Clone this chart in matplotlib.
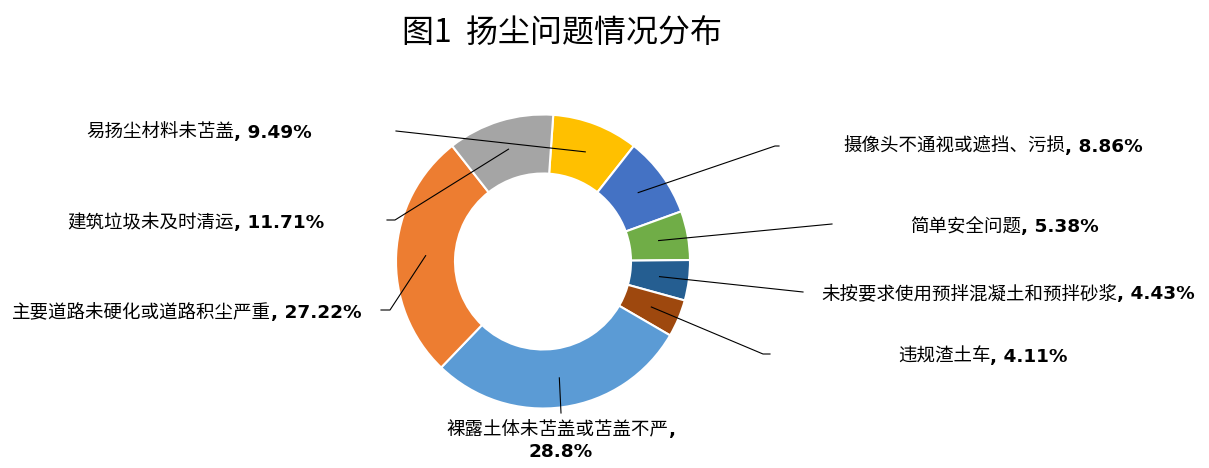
import numpy as np
import matplotlib
matplotlib.use("Agg")
import matplotlib.pyplot as plt

plt.rcParams['font.family'] = ['Noto Sans CJK SC', 'DejaVu Sans']

# data, clockwise from the top
names = ["易扬尘材料未苫盖", "摄像头不通视或遮挡、污损", "简单安全问题",
         "未按要求使用预拌混凝土和预拌砂浆", "违规渣土车", "裸露土体未苫盖或苫盖不严",
         "主要道路未硬化或道路积尘严重", "建筑垃圾未及时清运"]
values = [9.49, 8.86, 5.38, 4.43, 4.11, 28.8, 27.22, 11.71]
value_labels = ["9.49%", "8.86%", "5.38%", "4.43%", "4.11%", "28.8%", "27.22%", "11.71%"]
colors = ["#FFC000", "#4472C4", "#70AD47", "#255E91", "#9E480E", "#5B9BD5", "#ED7D31", "#A5A5A5"]

W, H = 1209, 468
fig = plt.figure(figsize=(W / 100, H / 100), dpi=100)
ax = fig.add_axes([0, 0, 1, 1])

cx, cy = 543, 261.5
R, ring = 147, 59
wedges, _ = ax.pie(values, colors=colors, startangle=86, counterclock=False,
                   radius=R, center=(cx, H - cy),
                   wedgeprops=dict(width=ring, edgecolor='white', linewidth=1.5))
ax.set_xlim(0, W)
ax.set_ylim(0, H)
ax.set_aspect('auto')
ax.axis('off')

# label layout in pixel coords (y down): text x, text y, alignment, leader path
layout = [
    (312, 131, 'right', [(396, 131)]),
    (843, 145, 'left', [(775, 146), (779, 146)]),
    (910, 225, 'left', [(832, 224)]),
    (821, 292, 'left', [(803, 292)]),
    (898, 355, 'left', [(763, 354), (770, 354)]),
    (561, 428, 'center', [(561, 413)]),
    (362, 311, 'right', [(390, 310), (381, 310)]),
    (324, 221, 'right', [(395, 220), (387, 220)]),
]

fs = 13.3
renderer = fig.canvas.get_renderer()


def width_of(t):
    return t.get_window_extent(renderer).width


for w, name, val, (tx, ty, ha, path) in zip(wedges, names, value_labels, layout):
    # leader line from the middle of the ring
    mid = np.deg2rad((w.theta1 + w.theta2) / 2)
    rm = R - ring / 2
    xs = [cx + rm * np.cos(mid)] + [p[0] for p in path]
    ys = [H - cy + rm * np.sin(mid)] + [H - p[1] for p in path]
    ax.plot(xs, ys, color='black', lw=0.8)

    base = H - ty - 7
    if ha == 'center':
        t1 = ax.text(0, base, name, fontsize=fs, va='baseline')
        t2 = ax.text(0, base, ",", fontsize=fs, fontweight='bold',
                     family='DejaVu Sans', va='baseline')
        w1, w2 = width_of(t1), width_of(t2)
        t1.set_x(tx - (w1 + w2) / 2)
        t2.set_x(tx - (w1 + w2) / 2 + w1)
        ax.text(tx, base - 22, val, fontsize=fs, fontweight='bold',
                family='DejaVu Sans', va='baseline', ha='center')
    elif ha == 'left':
        t1 = ax.text(tx, base, name, fontsize=fs, va='baseline', ha='left')
        ax.text(tx + width_of(t1), base, ", " + val, fontsize=fs, fontweight='bold',
                family='DejaVu Sans', va='baseline', ha='left')
    else:
        t2 = ax.text(tx, base, ", " + val, fontsize=fs, fontweight='bold',
                     family='DejaVu Sans', va='baseline', ha='right')
        ax.text(tx - width_of(t2), base, name, fontsize=fs, va='baseline', ha='right')

fig.text(562 / W, 1 - 33 / H, "图1  扬尘问题情况分布", fontsize=23,
         ha='center', va='center')

fig.savefig("out.png", dpi=100)
